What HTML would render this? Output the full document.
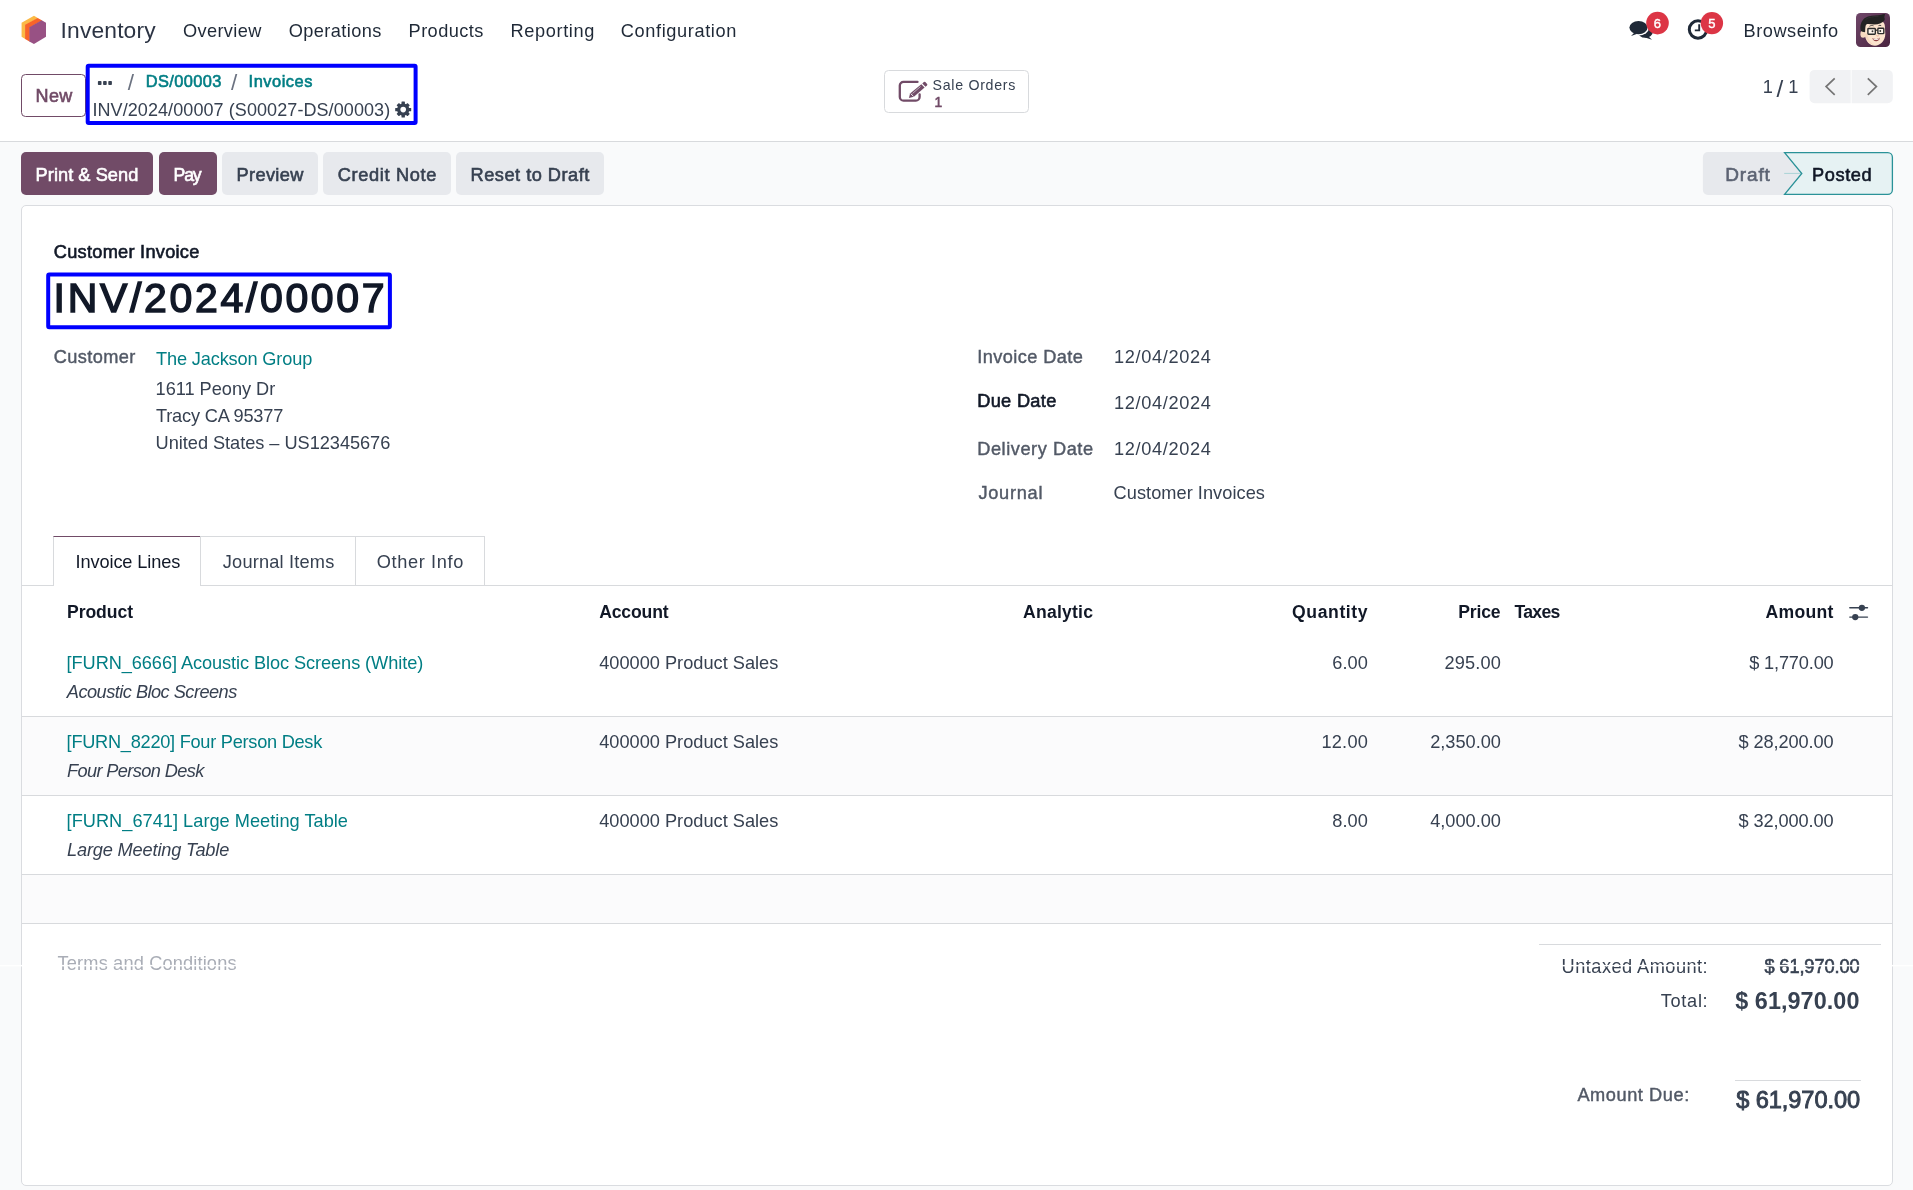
<!DOCTYPE html>
<html lang="en">
<head>
<meta charset="utf-8">
<title>INV/2024/00007 - Odoo</title>
<style>
html,body{margin:0;padding:0;}
body{width:1913px;height:1190px;overflow:hidden;position:relative;background:#f9fafb;
 font-family:"Liberation Sans",sans-serif;color:#374151;}
.abs{position:absolute;box-sizing:border-box;}
.t{position:absolute;white-space:pre;line-height:1;display:block;}
.m{-webkit-text-stroke:0.6px currentColor;}
.h{-webkit-text-stroke:1.5px currentColor;}
.k{-webkit-text-stroke:0.9px currentColor;}
.l{-webkit-text-stroke:0.42px currentColor;}
.b{font-weight:bold;}
.i{font-style:italic;}
svg{position:absolute;overflow:visible;}
#txt{position:absolute;left:0;top:0;width:1913px;height:1190px;will-change:transform;}
</style>
</head>
<body>
<!-- ===== top white area (navbar + control panel) ===== -->
<div class="abs" style="left:0;top:0;width:1913px;height:141px;background:#fff;"></div>
<div class="abs" style="left:0;top:141px;width:1913px;height:1px;background:#d8dadd;"></div>
<!-- logo -->
<svg style="left:0;top:0" width="70" height="62" viewBox="0 0 70 62">
 <polygon points="33.97,15.7 38.2,18.2 25.6,25.1 25.6,39.25 21.58,36.85 21.58,22.8" fill="#fbb945"/>
 <polygon points="37.7,17.9 42.2,20.6 29.85,27.5 29.85,41.7 25.1,38.95 25.1,24.85" fill="#f86429"/>
 <polygon points="41.7,20.3 45.99,22.8 45.99,36.85 33.97,44.1 29.35,41.4 29.35,27.2" fill="#985184"/>
</svg>
<!-- chat icon -->
<svg style="left:1620px;top:6px" width="110" height="50" viewBox="1620 6 110 50">
 <g fill="#1f2937">
  <ellipse cx="1645.300" cy="31.500" rx="7.600" ry="6.300"/>
  <path d="M1648.300 36.300l3.700 3.500-7.600-2.600z"/>
 </g>
 <ellipse cx="1638.500" cy="27.600" rx="10.500" ry="8.000" fill="#fff"/>
 <path d="M1634.000 32.000l-4.600 5.000 8.600-2.600z" fill="#fff"/>
 <g fill="#1f2937">
  <ellipse cx="1638.500" cy="27.600" rx="9.100" ry="6.600"/>
  <path d="M1634.700 32.200l-3.600 3.700 6.200-2.100z"/>
 </g>
 <circle cx="1657.500" cy="23.100" r="11.300" fill="#dc3545"/>
 <!-- clock -->
 <circle cx="1698" cy="29.500" r="8.700" fill="none" stroke="#1f2937" stroke-width="3"/>
 <path d="M1699.200 24.200v6.200h-4.400" fill="none" stroke="#1f2937" stroke-width="1.900"/>
 <circle cx="1711.900" cy="23.100" r="11.200" fill="#dc3545"/>
</svg>
<!-- avatar -->
<svg style="left:1856px;top:13px" width="34" height="34" viewBox="0 0 34 34">
 <defs>
  <linearGradient id="avbg" x1="0" y1="0" x2="1" y2="1"><stop offset="0" stop-color="#6f4669"/><stop offset="1" stop-color="#4a243f"/></linearGradient>
  <clipPath id="avclip"><rect x="0" y="0" width="34" height="34" rx="4.5"/></clipPath>
 </defs>
 <g clip-path="url(#avclip)">
  <rect width="34" height="34" fill="url(#avbg)"/>
  <ellipse cx="7.1" cy="21.2" rx="2.7" ry="3.6" fill="#f7d9c0"/>
  <path d="M8.6 12.5C8.6 8.5 13 6.8 19 6.8s9.900 2.200 9.900 6.700l.4 7.500c0 7-5.300 11.700-10.300 11.700S9.200 28.500 8.800 21z" fill="#fce4ce"/>
  <path d="M8.900 20.500c.6 5.500 4.200 10.500 9.500 11.800-3.600-2.300-6.600-6-7.100-11.800z" fill="#f3cfb3" opacity=".6"/>
  <path d="M4.700 17.600C3.400 11.200 6.000 5.300 12.000 3.400c4.800-1.500 9.800-.700 13.300-1.700 1.500-.400 2.600-1.100 3.500-.700.500 1.000-.600 2.100-.400 3.400.200 1.200.900 1.800-.300 3.300-1.900 2.300-5.900 3.800-10.000 3.700-3.300-.100-5.900-1.000-7.500-.100-1.400.800-1.200 3.800-1.500 7.900-1.900-.300-3.700-.400-4.400-1.600z" fill="#232323"/>
  <path d="M9.500 6.500c3-2.500 8-3 13-3.200" stroke="#3d3d3d" stroke-width=".8" fill="none" opacity=".6"/>
  <rect x="11.900" y="15.500" width="7.400" height="5.700" rx=".7" fill="#fff" fill-opacity=".6" stroke="#2b2b2b" stroke-width="1.400"/>
  <rect x="21.900" y="15.300" width="5.900" height="5.300" rx=".7" fill="#fff" fill-opacity=".6" stroke="#2b2b2b" stroke-width="1.400"/>
  <path d="M19.300 17.300l2.600-.300" stroke="#2b2b2b" stroke-width="1.200" fill="none"/>
  <circle cx="16.500" cy="18.300" r=".95" fill="#333"/><circle cx="24.300" cy="18.000" r=".95" fill="#333"/>
  <path d="M13.500 13.300c1.200-.900 2.800-1.000 4.000-.500" stroke="#333" stroke-width=".9" fill="none"/>
  <path d="M22.500 12.700c.900-.500 1.900-.500 2.700-.100" stroke="#333" stroke-width=".9" fill="none"/>
  <path d="M20.300 22.600c.8.500 1.800.5 2.500.1" stroke="#e8a994" stroke-width=".9" fill="none"/>
  <path d="M16.300 25.100c2.500 1.500 5.400 1.300 7.800-.500-.500 2.500-2.000 3.700-4.000 3.700s-3.400-1.200-3.800-3.200z" fill="#8e3f42"/>
  <path d="M16.800 25.400c2.300 1.200 4.800 1.000 6.900-.400-.800 1.500-2.000 2.000-3.500 2.000s-2.700-.500-3.400-1.600z" fill="#fff"/>
 </g>
</svg>

<!-- New button -->
<div class="abs" style="left:21px;top:74px;width:65px;height:42.500px;border:1px solid #714b67;border-radius:4.500px;background:#fff;"></div>
<!-- blue highlight box 1 + dots + gear -->
<svg style="left:0;top:0" width="440" height="141" viewBox="0 0 440 141">
 <rect x="87.700" y="65.700" width="327.900" height="57.300" rx="1" fill="none" stroke="#0000ff" stroke-width="4"/>
 <g fill="#374151">
  <rect x="97.900" y="81" width="3.600" height="4" rx=".8"/><rect x="103.100" y="81" width="3.600" height="4" rx=".8"/><rect x="108.300" y="81" width="3.600" height="4" rx=".8"/>
 </g>
 <!-- gear -->
 <g transform="translate(403.200 109.600)" fill="#374151">
  <g id="teeth"><rect x="-1.700" y="-8" width="3.400" height="16" rx=".5"/><rect x="-8" y="-1.700" width="16" height="3.400" rx=".5"/></g>
  <g transform="rotate(45)"><rect x="-1.700" y="-7.700" width="3.400" height="15.400" rx=".5"/><rect x="-7.700" y="-1.700" width="15.400" height="3.400" rx=".5"/></g>
  <circle r="6.100"/>
  <circle r="2.800" fill="#fff"/>
 </g>
</svg>
<!-- Sale Orders stat button -->
<div class="abs" style="left:884px;top:70px;width:145px;height:43px;border:1px solid #d8dadd;border-radius:4.500px;background:#fff;"></div>
<svg style="left:890px;top:74px" width="44" height="36" viewBox="890 74 44 36">
 <path d="M917.500 81.900h-14.000a3.700 3.700 0 0 0-3.700 3.700v11.300a3.700 3.700 0 0 0 3.700 3.700h12.400a3.700 3.700 0 0 0 3.700-3.700v-2.600" fill="none" stroke="#714b67" stroke-width="2.300" stroke-linecap="round"/>
 <g fill="#714b67">
  <path d="M921.300 84.300l3.300 3.300-10.700 9.100-5.000 1.400 1.200-4.700z"/>
  <path d="M922.300 83.400l1.600-1.400a1.000 1.000 0 0 1 1.400.100l1.800 1.900a1.000 1.000 0 0 1-.100 1.400l-1.500 1.300z"/>
 </g>
 <path d="M910.700 93.600l2.800 2.800" stroke="#fff" stroke-width=".9"/>
 <path d="M912.500 93.500l8.000-7.000" stroke="#fff" stroke-width=".7" opacity=".8"/>
</svg>
<!-- pager -->
<svg style="left:1809px;top:69px" width="84" height="36" viewBox="1809 69 84 36">
 <path d="M1814.600 69.900h36.100v33.300h-36.100a5 5 0 0 1-5-5v-23.300a5 5 0 0 1 5-5z" fill="#f1f2f4"/>
 <path d="M1851.600 69.900h36.200a5 5 0 0 1 5 5v23.300a5 5 0 0 1-5 5h-36.200z" fill="#f1f2f4"/>
 <path d="M1834.700 78.300l-8.600 8.300 8.600 8.300" fill="none" stroke="#747474" stroke-width="1.700"/>
 <path d="M1867.800 78.300l8.600 8.300-8.600 8.300" fill="none" stroke="#747474" stroke-width="1.700"/>
</svg>

<!-- action buttons -->
<div class="abs" style="left:21px;top:152.300px;width:132.300px;height:42.500px;background:#714b67;border-radius:5px;"></div>
<div class="abs" style="left:159px;top:152.300px;width:58px;height:42.500px;background:#714b67;border-radius:5px;"></div>
<div class="abs" style="left:222.300px;top:152.300px;width:95.700px;height:42.500px;background:#e7e9ed;border-radius:5px;"></div>
<div class="abs" style="left:322.900px;top:152.300px;width:128px;height:42.500px;background:#e7e9ed;border-radius:5px;"></div>
<div class="abs" style="left:456.300px;top:152.300px;width:147.700px;height:42.500px;background:#e7e9ed;border-radius:5px;"></div>
<!-- status bar -->
<svg style="left:1700px;top:150px" width="196" height="48" viewBox="1700 150 196 48">
 <path d="M1707.900 152.100h76.300l17.400 21.400-17.400 21.400h-76.300a5 5 0 0 1-5-5v-32.800a5 5 0 0 1 5-5z" fill="#e7e9ed"/>
 <path d="M1784.200 173.400h17" stroke="#a9d3d6" stroke-width="1" fill="none"/>
 <path d="M1784.600 152.600h103.200a4.600 4.600 0 0 1 4.600 4.600v32.600a4.600 4.600 0 0 1-4.600 4.600h-103.200l17.200-20.900z" fill="#e6f2f3" stroke="#2a9298" stroke-width="1.300" stroke-linejoin="miter"/>
</svg>

<!-- form sheet -->
<div class="abs" style="left:21px;top:205px;width:1872px;height:981px;background:#fff;border:1px solid #dadce0;border-radius:5px;"></div>
<!-- blue highlight box 2 -->
<svg style="left:0;top:260px" width="440" height="80" viewBox="0 260 440 80">
 <rect x="48.200" y="274.500" width="341.700" height="52.700" rx="1" fill="none" stroke="#0000ff" stroke-width="4"/>
</svg>
<!-- notebook tabs -->
<div class="abs" style="left:22px;top:585px;width:1870px;height:1px;background:#d8dadd;"></div>
<div class="abs" style="left:52.500px;top:536px;width:148.500px;height:50px;background:#fff;border:1px solid #d8dadd;border-top-color:#714b67;border-bottom:none;"></div>
<div class="abs" style="left:200px;top:536px;width:156px;height:49px;border-top:1px solid #d8dadd;border-right:1px solid #d8dadd;"></div>
<div class="abs" style="left:355px;top:536px;width:130px;height:49px;border-top:1px solid #d8dadd;border-right:1px solid #d8dadd;"></div>
<!-- table rows -->
<div class="abs" style="left:22px;top:716px;width:1870px;height:1px;background:#d8dadd;"></div>
<div class="abs" style="left:22px;top:717px;width:1870px;height:78px;background:#fbfbfc;"></div>
<div class="abs" style="left:22px;top:795px;width:1870px;height:1px;background:#d8dadd;"></div>
<div class="abs" style="left:22px;top:874px;width:1870px;height:1px;background:#d8dadd;"></div>
<div class="abs" style="left:22px;top:875px;width:1870px;height:48px;background:#fbfbfc;"></div>
<div class="abs" style="left:22px;top:923px;width:1870px;height:1px;background:#d8dadd;"></div>
<!-- column settings icon -->
<svg style="left:1845px;top:600px" width="28" height="24" viewBox="1845 600 28 24">
 <g stroke="#374151" stroke-width="1.400" stroke-linecap="round"><path d="M1849.800 607.800h17.700"/><path d="M1849.800 617.100h17.700"/></g>
 <circle cx="1861.900" cy="607.800" r="3.150" fill="#374151"/><circle cx="1855.250" cy="617.100" r="3.150" fill="#374151"/>
</svg>
<!-- totals lines -->
<div class="abs" style="left:1539px;top:943.800px;width:342px;height:1px;background:#d8dadd;"></div>
<div class="abs" style="left:1735px;top:1080px;width:125.500px;height:1px;background:#d8dadd;"></div>

<div id="txt">
<span class="t" style="left:60.60px;top:18.80px;font-size:22.8px;color:#2c3444;letter-spacing:0.154px;">Inventory</span>
<span class="t" style="left:183.00px;top:22.20px;font-size:18.2px;color:#1f2937;letter-spacing:0.363px;">Overview</span>
<span class="t" style="left:288.80px;top:22.20px;font-size:18.2px;color:#1f2937;letter-spacing:0.392px;">Operations</span>
<span class="t" style="left:408.60px;top:22.20px;font-size:18.2px;color:#1f2937;letter-spacing:0.417px;">Products</span>
<span class="t" style="left:510.60px;top:22.20px;font-size:18.2px;color:#1f2937;letter-spacing:0.607px;">Reporting</span>
<span class="t" style="left:620.80px;top:22.20px;font-size:18.2px;color:#1f2937;letter-spacing:0.611px;">Configuration</span>
<span class="t" style="left:1743.60px;top:22.00px;font-size:18.2px;color:#1f2937;letter-spacing:0.505px;">Browseinfo</span>
<span class="t l" style="left:1653.80px;top:17.10px;font-size:13px;color:#ffffff;">6</span>
<span class="t l" style="left:1708.20px;top:17.10px;font-size:13px;color:#ffffff;">5</span>
<span class="t m" style="left:35.60px;top:87.00px;font-size:18px;color:#714b67;letter-spacing:0.295px;">New</span>
<span class="t" style="left:127.80px;top:71.80px;font-size:22.5px;color:#6b7280;">/</span>
<span class="t m" style="left:145.80px;top:72.70px;font-size:16.4px;color:#017e84;letter-spacing:0.373px;">DS/00003</span>
<span class="t" style="left:231.00px;top:71.80px;font-size:22.5px;color:#6b7280;">/</span>
<span class="t m" style="left:248.60px;top:72.70px;font-size:16.4px;color:#017e84;letter-spacing:0.524px;">Invoices</span>
<span class="t" style="left:92.40px;top:100.90px;font-size:18px;color:#374151;letter-spacing:0.083px;">INV/2024/00007 (S00027-DS/00003)</span>
<span class="t" style="left:932.60px;top:77.70px;font-size:14.2px;color:#374151;letter-spacing:0.700px;">Sale Orders</span>
<span class="t m" style="left:934.40px;top:95.80px;font-size:13.8px;color:#714b67;">1</span>
<span class="t" style="left:1762.80px;top:78.40px;font-size:18.2px;color:#374151;">1</span>
<span class="t" style="left:1776.60px;top:76.60px;font-size:24.3px;color:#374151;">/</span>
<span class="t" style="left:1788.20px;top:78.40px;font-size:18.2px;color:#374151;">1</span>
<span class="t m" style="left:35.60px;top:166.00px;font-size:18.2px;color:#ffffff;letter-spacing:0.055px;">Print &amp; Send</span>
<span class="t m" style="left:173.60px;top:166.80px;font-size:17.7px;color:#ffffff;letter-spacing:-1.217px;">Pay</span>
<span class="t m" style="left:236.60px;top:166.00px;font-size:18.2px;color:#374151;letter-spacing:0.341px;">Preview</span>
<span class="t m" style="left:337.80px;top:166.00px;font-size:18.2px;color:#374151;letter-spacing:0.653px;">Credit Note</span>
<span class="t m" style="left:470.60px;top:166.00px;font-size:18.2px;color:#374151;letter-spacing:0.497px;">Reset to Draft</span>
<span class="t m" style="left:1725.20px;top:164.80px;font-size:19px;color:#5c6373;letter-spacing:0.876px;">Draft</span>
<span class="t m" style="left:1812.00px;top:165.80px;font-size:18.2px;color:#111827;letter-spacing:0.618px;">Posted</span>
<span class="t m" style="left:53.80px;top:242.80px;font-size:18.2px;color:#111827;letter-spacing:0.267px;">Customer Invoice</span>
<span class="t h" style="left:53.60px;top:278.20px;font-size:41px;color:#111827;letter-spacing:2.666px;">INV/2024/00007</span>
<span class="t l" style="left:53.80px;top:348.00px;font-size:18.2px;color:#525966;letter-spacing:0.375px;">Customer</span>
<span class="t" style="left:156.00px;top:350.00px;font-size:18.2px;color:#017e84;letter-spacing:-0.150px;">The Jackson Group</span>
<span class="t" style="left:155.60px;top:380.00px;font-size:18.2px;color:#374151;letter-spacing:-0.027px;">1611 Peony Dr</span>
<span class="t" style="left:156.00px;top:407.00px;font-size:18.2px;color:#374151;letter-spacing:-0.187px;">Tracy CA 95377</span>
<span class="t" style="left:155.60px;top:434.25px;font-size:18.2px;color:#374151;letter-spacing:-0.035px;">United States – US12345676</span>
<span class="t l" style="left:977.20px;top:347.90px;font-size:18.2px;color:#525966;letter-spacing:0.420px;">Invoice Date</span>
<span class="t" style="left:1114.00px;top:348.30px;font-size:18.2px;color:#374151;letter-spacing:0.654px;">12/04/2024</span>
<span class="t m" style="left:977.20px;top:392.20px;font-size:18.2px;color:#111827;letter-spacing:0.326px;">Due Date</span>
<span class="t" style="left:1114.00px;top:394.00px;font-size:18.2px;color:#374151;letter-spacing:0.654px;">12/04/2024</span>
<span class="t l" style="left:977.20px;top:439.60px;font-size:18.2px;color:#525966;letter-spacing:0.563px;">Delivery Date</span>
<span class="t" style="left:1114.00px;top:440.10px;font-size:18.2px;color:#374151;letter-spacing:0.654px;">12/04/2024</span>
<span class="t l" style="left:978.40px;top:484.40px;font-size:18.2px;color:#525966;letter-spacing:0.732px;">Journal</span>
<span class="t" style="left:1113.60px;top:484.40px;font-size:18.2px;color:#374151;letter-spacing:0.043px;">Customer Invoices</span>
<span class="t" style="left:75.60px;top:552.50px;font-size:18.2px;color:#111827;letter-spacing:-0.122px;">Invoice Lines</span>
<span class="t" style="left:222.80px;top:552.50px;font-size:18.2px;color:#374151;letter-spacing:0.194px;">Journal Items</span>
<span class="t" style="left:376.80px;top:552.50px;font-size:18.2px;color:#374151;letter-spacing:0.627px;">Other Info</span>
<span class="t b" style="left:67.00px;top:604.00px;font-size:17.6px;color:#111827;letter-spacing:-0.068px;">Product</span>
<span class="t b" style="left:599.20px;top:604.00px;font-size:17.6px;color:#111827;letter-spacing:-0.153px;">Account</span>
<span class="t b" style="left:1023.00px;top:604.00px;font-size:17.6px;color:#111827;letter-spacing:0.220px;">Analytic</span>
<span class="t b" style="left:1292.00px;top:604.00px;font-size:17.6px;color:#111827;letter-spacing:0.604px;">Quantity</span>
<span class="t b" style="left:1458.20px;top:604.00px;font-size:17.6px;color:#111827;letter-spacing:-0.164px;">Price</span>
<span class="t b" style="left:1514.40px;top:604.00px;font-size:17.6px;color:#111827;letter-spacing:-0.649px;">Taxes</span>
<span class="t b" style="left:1765.40px;top:604.00px;font-size:17.6px;color:#111827;letter-spacing:0.322px;">Amount</span>
<span class="t" style="left:66.60px;top:654.25px;font-size:18.2px;color:#017e84;letter-spacing:-0.080px;">[FURN_6666] Acoustic Bloc Screens (White)</span>
<span class="t i" style="left:66.80px;top:683.00px;font-size:18.2px;color:#374151;letter-spacing:-0.522px;">Acoustic Bloc Screens</span>
<span class="t" style="left:599.20px;top:654.25px;font-size:18.2px;color:#374151;letter-spacing:0.006px;">400000 Product Sales</span>
<span class="t" style="left:1332.20px;top:654.25px;font-size:18.2px;color:#374151;letter-spacing:0.106px;">6.00</span>
<span class="t" style="left:1444.60px;top:654.25px;font-size:18.2px;color:#374151;letter-spacing:0.137px;">295.00</span>
<span class="t" style="left:1749.20px;top:654.25px;font-size:18.2px;color:#374151;letter-spacing:-0.161px;">$ 1,770.00</span>
<span class="t" style="left:66.60px;top:733.00px;font-size:18.2px;color:#017e84;letter-spacing:-0.264px;">[FURN_8220] Four Person Desk</span>
<span class="t i" style="left:67.00px;top:762.00px;font-size:18.2px;color:#374151;letter-spacing:-0.618px;">Four Person Desk</span>
<span class="t" style="left:599.20px;top:733.00px;font-size:18.2px;color:#374151;letter-spacing:0.006px;">400000 Product Sales</span>
<span class="t" style="left:1321.40px;top:733.00px;font-size:18.2px;color:#374151;letter-spacing:0.250px;">12.00</span>
<span class="t" style="left:1430.20px;top:733.00px;font-size:18.2px;color:#374151;letter-spacing:-0.012px;">2,350.00</span>
<span class="t" style="left:1738.40px;top:733.00px;font-size:18.2px;color:#374151;letter-spacing:-0.076px;">$ 28,200.00</span>
<span class="t" style="left:66.60px;top:812.00px;font-size:18.2px;color:#017e84;letter-spacing:0.022px;">[FURN_6741] Large Meeting Table</span>
<span class="t i" style="left:67.00px;top:841.00px;font-size:18.2px;color:#374151;letter-spacing:-0.158px;">Large Meeting Table</span>
<span class="t" style="left:599.20px;top:812.00px;font-size:18.2px;color:#374151;letter-spacing:0.006px;">400000 Product Sales</span>
<span class="t" style="left:1332.20px;top:812.00px;font-size:18.2px;color:#374151;letter-spacing:0.106px;">8.00</span>
<span class="t" style="left:1430.20px;top:812.00px;font-size:18.2px;color:#374151;letter-spacing:-0.012px;">4,000.00</span>
<span class="t" style="left:1738.40px;top:812.00px;font-size:18.2px;color:#374151;letter-spacing:-0.076px;">$ 32,000.00</span>
<span class="t" style="left:57.60px;top:954.10px;font-size:18.2px;color:#a9adb6;letter-spacing:0.158px;clip-path:inset(-5px -5px 6.70px -5px);">Terms and Conditions</span>
<span class="t" style="left:57.60px;top:954.80px;font-size:18.2px;color:#a9adb6;letter-spacing:0.158px;clip-path:inset(10.80px -5px -8px -5px);">Terms and Conditions</span>
<span class="t" style="left:1561.60px;top:956.60px;font-size:18.2px;color:#374151;letter-spacing:0.466px;clip-path:inset(-5px -5px 9.20px -5px);">Untaxed Amount:</span>
<span class="t" style="left:1561.60px;top:958.10px;font-size:18.2px;color:#374151;letter-spacing:0.466px;clip-path:inset(7.50px -5px -8px -5px);">Untaxed Amount:</span>
<span class="t m" style="left:1764.40px;top:956.60px;font-size:18.2px;color:#374151;letter-spacing:-0.096px;clip-path:inset(-5px -5px 9.20px -5px);">$ 61,970.00</span>
<span class="t m" style="left:1764.40px;top:958.10px;font-size:18.2px;color:#374151;letter-spacing:-0.096px;clip-path:inset(7.50px -5px -8px -5px);">$ 61,970.00</span>
<span class="t" style="left:1660.80px;top:991.70px;font-size:18.2px;color:#374151;letter-spacing:0.677px;">Total:</span>
<span class="t b" style="left:1735.20px;top:989.50px;font-size:23.4px;color:#374151;letter-spacing:0.064px;">$ 61,970.00</span>
<span class="t l" style="left:1577.40px;top:1085.90px;font-size:18.2px;color:#525966;letter-spacing:0.570px;">Amount Due:</span>
<span class="t k" style="left:1736.20px;top:1088.90px;font-size:23.6px;color:#374151;letter-spacing:-0.072px;">$ 61,970.00</span>
</div>
<!-- screenshot stitching seam -->
<svg style="left:0;top:960px" width="1913" height="10" viewBox="0 960 1913 10"><rect x="0" y="964.900" width="1913" height="1.500" fill="#fff"/></svg>

</body>
</html>
